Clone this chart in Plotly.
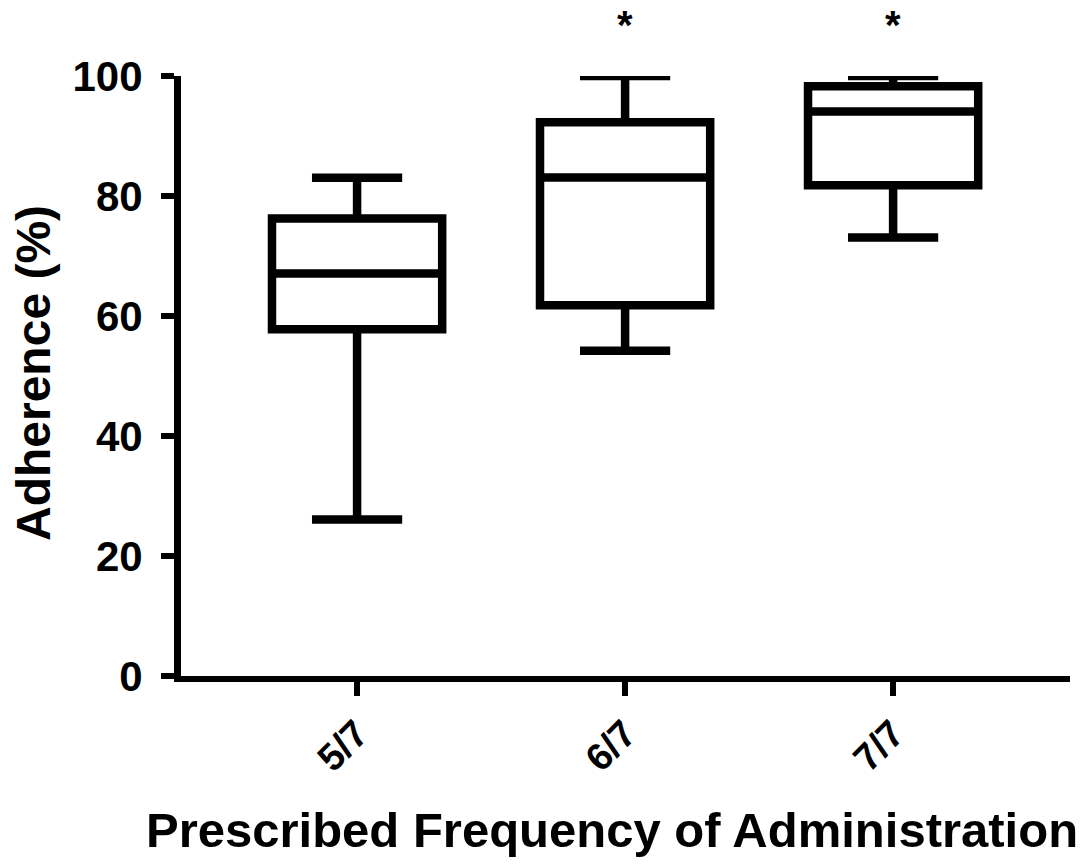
import plotly.graph_objects as go

categories = ["5/7", "6/7", "7/7"]
lower_whisker = [26.1, 54.2, 73.1]
q1_vals = [57.8, 61.8, 81.8]
median_vals = [67.1, 83.1, 94.1]
q3_vals = [76.25, 92.3, 98.3]
upper_whisker = [83.05, 100.0, 100.0]
significance = ["", "*", "*"]
y_ticks = [0, 20, 40, 60, 80, 100]

FONT = "Liberation Sans, Arial, sans-serif"
L, T, PW, PH = 181, 76, 889, 600
Y0 = T + PH  # pixel row of y = 0

fig = go.Figure()
fig.add_trace(go.Box(
    x=categories,
    q1=q1_vals, median=median_vals, q3=q3_vals,
    lowerfence=lower_whisker, upperfence=upper_whisker,
    width=0.635, whiskerwidth=0.53,
    line=dict(color="black", width=8.5),
    fillcolor="white",
    boxpoints=False,
    showlegend=False,
    hoverinfo="skip",
))

for c, s in zip(categories, significance):
    if s:
        fig.add_annotation(x=c, y=(Y0 - 25) / PH, xref="x", yref="paper", text=s,
                           showarrow=False, yanchor="middle",
                           font=dict(family=FONT, size=40, color="black", weight="bold"))

fig.add_annotation(text="Adherence (%)", xref="paper", yref="paper",
                   x=(33 - L) / PW, y=(Y0 - 373) / PH, textangle=-90,
                   showarrow=False, xanchor="center", yanchor="middle",
                   font=dict(family=FONT, size=48, color="black", weight="bold"))
fig.add_annotation(text="Prescribed Frequency of Administration", xref="paper", yref="paper",
                   x=(612 - L) / PW, y=-(830 - Y0) / PH,
                   showarrow=False, xanchor="center", yanchor="middle",
                   font=dict(family=FONT, size=49, color="black", weight="bold"))

fig.update_layout(
    width=1092, height=868,
    margin=dict(l=L, r=1092 - L - PW, t=T, b=868 - T - PH, autoexpand=False),
    plot_bgcolor="white", paper_bgcolor="white",
    xaxis=dict(
        type="category", range=[-0.657, 2.66],
        showline=True, linecolor="black", linewidth=6,
        ticks="outside", ticklen=14, tickwidth=6, tickcolor="black",
        tickangle=-45, showgrid=False, zeroline=False,
        tickfont=dict(family=FONT, size=38, color="black", weight="bold"),
    ),
    yaxis=dict(
        range=[0, 100], tickvals=y_ticks,
        showline=True, linecolor="black", linewidth=7,
        ticks="outside", ticklen=13, tickwidth=6, tickcolor="black",
        showgrid=False, zeroline=False,
        ticklabelstandoff=10,
        tickfont=dict(family=FONT, size=42, color="black", weight="bold"),
    ),
)

fig.write_html("out.html", config={"displayModeBar": False},
               post_script="document.body.style.margin='0';")
